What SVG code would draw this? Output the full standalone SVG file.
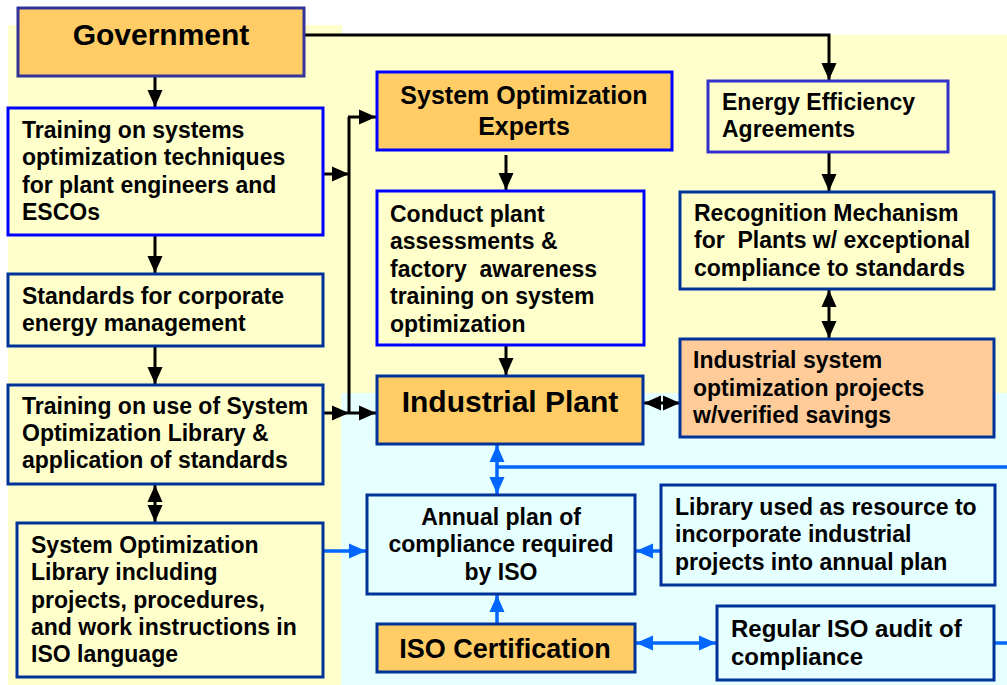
<svg xmlns="http://www.w3.org/2000/svg" width="1007" height="685" viewBox="0 0 1007 685">
<defs>
<style>
.bx{stroke-width:3}
.y{fill:#FFFFCC}.o{fill:#FFCC66}.p{fill:#FFCC99}.c{fill:#E6FFFF}
.sb{stroke:#0000FF}.sn{stroke:#003399}.sg{stroke:#333399}.se{stroke:#3333CC}
.t{font-family:"Liberation Sans",Arial,sans-serif;font-weight:bold;font-size:23px;fill:#000}
.k{fill:none;stroke:#000;stroke-width:3}
.bl{fill:none;stroke:#0066FF;stroke-width:3.5}
</style>
<marker id="ak" markerUnits="userSpaceOnUse" markerWidth="17" markerHeight="16" refX="17" refY="8" orient="auto-start-reverse"><path d="M0,0.5 L17,8 L0,15.5 z" fill="#000"/></marker>
<marker id="ab" markerUnits="userSpaceOnUse" markerWidth="17" markerHeight="16" refX="17" refY="8" orient="auto-start-reverse"><path d="M0,0.5 L17,8 L0,15.5 z" fill="#0066FF"/></marker>
</defs>
<g id="background">
<rect x="8" y="25" width="334" height="660" fill="#FFFFCC"/>
<rect x="341" y="35" width="666" height="358" fill="#FFFFCC"/>
<rect x="341" y="393" width="666" height="292" fill="#E6FFFF"/>
</g>
<g id="connectors">
<line class="k" x1="155" y1="77" x2="155" y2="107" marker-end="url(#ak)"/>
<path class="k" d="M304,35 H829 V80" marker-end="url(#ak)"/>
<line class="k" x1="155" y1="235" x2="155" y2="273" marker-end="url(#ak)"/>
<line class="k" x1="155" y1="346" x2="155" y2="384" marker-end="url(#ak)"/>
<line class="k" x1="155" y1="485" x2="155" y2="522" marker-start="url(#ak)" marker-end="url(#ak)"/>
<line class="k" x1="323" y1="174" x2="349" y2="174" marker-end="url(#ak)"/>
<line class="k" x1="323" y1="413" x2="349" y2="413" marker-end="url(#ak)"/>
<path class="k" d="M349,413 V117"/>
<line class="k" x1="348" y1="117" x2="376" y2="117" marker-end="url(#ak)"/>
<line class="k" x1="349" y1="413" x2="376" y2="413" marker-end="url(#ak)"/>
<line class="k" x1="506" y1="155" x2="506" y2="190" marker-end="url(#ak)"/>
<line class="k" x1="506" y1="346" x2="506" y2="375" marker-end="url(#ak)"/>
<line class="k" x1="829" y1="146" x2="829" y2="191" marker-end="url(#ak)"/>
<line class="k" x1="829" y1="290" x2="829" y2="338" marker-start="url(#ak)" marker-end="url(#ak)"/>
<line class="k" x1="644" y1="403" x2="680" y2="403" marker-start="url(#ak)" marker-end="url(#ak)"/>
<line class="bl" x1="497" y1="445" x2="497" y2="494" marker-start="url(#ab)" marker-end="url(#ab)"/>
<line class="bl" x1="497" y1="467" x2="1007" y2="467"/>
<line class="bl" x1="323" y1="551" x2="366" y2="551" marker-end="url(#ab)"/>
<line class="bl" x1="661" y1="551" x2="636" y2="551" marker-end="url(#ab)"/>
<line class="bl" x1="497" y1="624" x2="497" y2="595" marker-end="url(#ab)"/>
<line class="bl" x1="636" y1="643" x2="716" y2="643" marker-start="url(#ab)" marker-end="url(#ab)"/>
<line class="bl" x1="994" y1="643" x2="1007" y2="643"/>
</g>
<g id="government">
<rect class="bx o sg" x="18" y="8" width="286" height="68"/>
<text class="t" x="161" y="45" text-anchor="middle" style="font-size:30px">Government</text>
</g>
<g id="training-systems">
<rect class="bx y sb" x="8" y="108" width="315" height="127"/>
<text class="t" x="22" y="138">Training on systems</text>
<text class="t" x="22" y="165">optimization techniques</text>
<text class="t" x="22" y="193">for plant engineers and</text>
<text class="t" x="22" y="220">ESCOs</text>
</g>
<g id="standards">
<rect class="bx y sn" x="8" y="274" width="315" height="72"/>
<text class="t" x="22" y="304">Standards for corporate</text>
<text class="t" x="22" y="331">energy management</text>
</g>
<g id="training-library">
<rect class="bx y sn" x="8" y="385" width="315" height="99"/>
<text class="t" x="22" y="414">Training on use of System</text>
<text class="t" x="22" y="441">Optimization Library &amp;</text>
<text class="t" x="22" y="468">application of standards</text>
</g>
<g id="library">
<rect class="bx y sn" x="17" y="523" width="306" height="154"/>
<text class="t" x="31" y="553">System Optimization</text>
<text class="t" x="31" y="580">Library including</text>
<text class="t" x="31" y="608">projects, procedures,</text>
<text class="t" x="31" y="635">and work instructions in</text>
<text class="t" x="31" y="662">ISO language</text>
</g>
<g id="experts">
<rect class="bx o sb" x="377" y="72" width="295" height="78"/>
<text class="t" x="524" y="104" text-anchor="middle" style="font-size:25px">System Optimization</text>
<text class="t" x="524" y="135" text-anchor="middle" style="font-size:25px">Experts</text>
</g>
<g id="conduct">
<rect class="bx y sb" x="377" y="191" width="267" height="154"/>
<text class="t" x="390" y="222">Conduct plant</text>
<text class="t" x="390" y="249">assessments &amp;</text>
<text class="t" x="390" y="277" xml:space="preserve">factory  awareness</text>
<text class="t" x="390" y="304">training on system</text>
<text class="t" x="390" y="332">optimization</text>
</g>
<g id="industrial-plant">
<rect class="bx o sn" x="377" y="376" width="266" height="68"/>
<text class="t" x="510" y="412" text-anchor="middle" style="font-size:30px">Industrial Plant</text>
</g>
<g id="agreements">
<rect class="bx y se" x="708" y="81" width="240" height="71"/>
<text class="t" x="722" y="110">Energy Efficiency</text>
<text class="t" x="722" y="137">Agreements</text>
</g>
<g id="recognition">
<rect class="bx y sn" x="680" y="192" width="314" height="97"/>
<text class="t" x="694" y="221">Recognition Mechanism</text>
<text class="t" x="694" y="248" xml:space="preserve">for  Plants w/ exceptional</text>
<text class="t" x="694" y="276">compliance to standards</text>
</g>
<g id="projects">
<rect class="bx p sn" x="680" y="339" width="314" height="98"/>
<text class="t" x="693" y="368">Industrial system</text>
<text class="t" x="693" y="396">optimization projects</text>
<text class="t" x="693" y="423">w/verified savings</text>
</g>
<g id="annual-plan">
<rect class="bx c sn" x="367" y="495" width="268" height="99"/>
<text class="t" x="501" y="525" text-anchor="middle">Annual plan of</text>
<text class="t" x="501" y="552" text-anchor="middle">compliance required</text>
<text class="t" x="501" y="580" text-anchor="middle">by ISO</text>
</g>
<g id="library-resource">
<rect class="bx c sn" x="661" y="485" width="334" height="100"/>
<text class="t" x="675" y="515">Library used as resource to</text>
<text class="t" x="675" y="542">incorporate industrial</text>
<text class="t" x="675" y="570">projects into annual plan</text>
</g>
<g id="iso-certification">
<rect class="bx o sn" x="377" y="624" width="258" height="48"/>
<text class="t" x="505" y="658" text-anchor="middle" style="font-size:27px">ISO Certification</text>
</g>
<g id="iso-audit">
<rect class="bx c sn" x="717" y="606" width="277" height="74"/>
<text class="t" x="731" y="637" style="font-size:24px">Regular ISO audit of</text>
<text class="t" x="731" y="665" style="font-size:24px">compliance</text>
</g>
</svg>
